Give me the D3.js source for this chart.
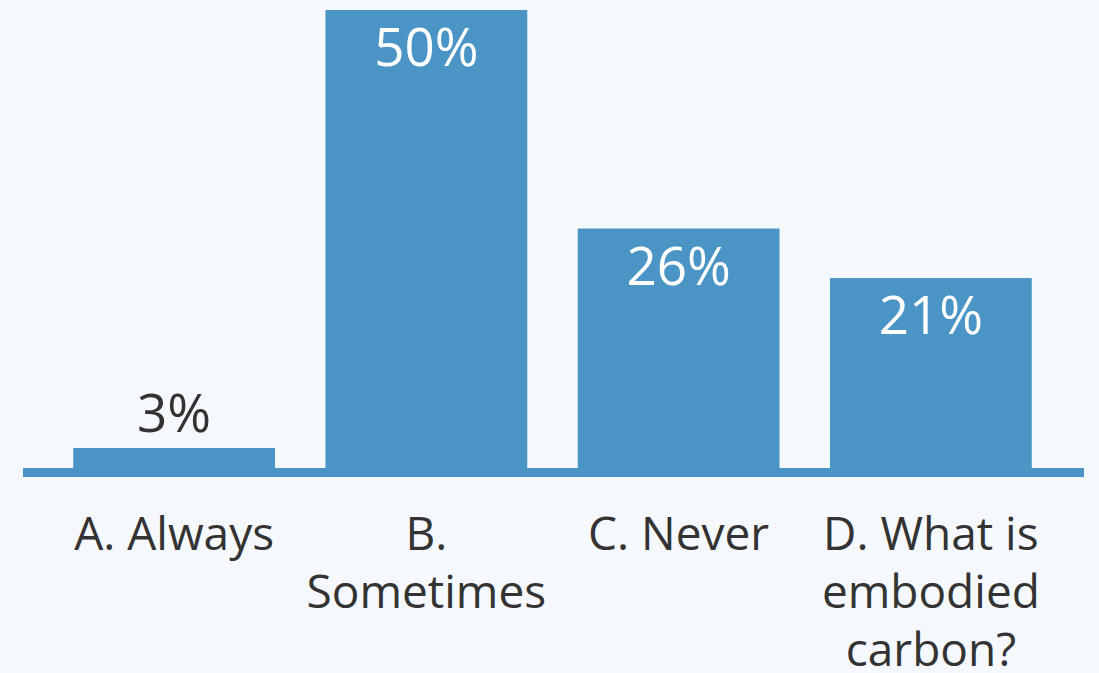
<!DOCTYPE html>
<html>
<head>
<meta charset="utf-8">
<script src="https://cdn.jsdelivr.net/npm/d3@7"></script>
<style>
  html, body { margin: 0; padding: 0; background: #f5f9fd; }
  svg { display: block; }
</style>
</head>
<body>
<svg id="chart" width="1099" height="673"></svg>
<script>
const categories = ["A. Always", "B. Sometimes", "C. Never", "D. What is embodied carbon?"];
const categoryLines = [["A. Always"], ["B.", "Sometimes"], ["C. Never"], ["D. What is", "embodied", "carbon?"]];
// bar heights (labels show rounded percentages)
const values = [3.1, 50, 26.6, 21.3];
const valueLabels = ["3%", "50%", "26%", "21%"];

const W = 1099, H = 673;
const barColor = "#4b94c6";
const textColor = "#333333";
const font = "'Open Sans', sans-serif";

const svg = d3.select("#chart");

const x = d3.scaleBand().domain(categories).range([48, 1057]).paddingInner(0.2).paddingOuter(0.1);
const y = d3.scaleLinear().domain([0, 50]).range([477, 10]);

const data = categories.map((c, i) => ({ c, v: values[i], label: valueLabels[i], lines: categoryLines[i] }));

svg.selectAll("rect.bar").data(data).join("rect")
  .attr("class", "bar")
  .attr("x", d => x(d.c))
  .attr("width", x.bandwidth())
  .attr("y", d => y(d.v))
  .attr("height", d => y(0) - y(d.v))
  .attr("fill", barColor);

// baseline
svg.append("rect")
  .attr("x", x.range()[0] - 25)
  .attr("width", (x.range()[1] - x.range()[0]) + 52)
  .attr("y", y(0) - 9)
  .attr("height", 9)
  .attr("fill", barColor);

// value labels
const inside = d => (y(0) - y(d.v)) > 60;
svg.selectAll("text.val").data(data).join("text")
  .attr("class", "val")
  .attr("x", d => x(d.c) + x.bandwidth() / 2)
  .attr("y", d => inside(d) ? y(d.v) + 56 : y(d.v) - 16)
  .attr("text-anchor", "middle")
  .attr("font-family", font)
  .attr("font-size", 53)
  .attr("fill", d => inside(d) ? "#ffffff" : textColor)
  .text(d => d.label);

// category labels
const cat = svg.selectAll("text.cat").data(data).join("text")
  .attr("class", "cat")
  .attr("x", d => x(d.c) + x.bandwidth() / 2)
  .attr("y", 550)
  .attr("text-anchor", "middle")
  .attr("font-family", font)
  .attr("font-size", 46)
  .attr("fill", textColor);
cat.selectAll("tspan").data(d => d.lines.map(l => ({ l, x: x(d.c) + x.bandwidth() / 2 })))
  .join("tspan")
  .attr("x", t => t.x)
  .attr("dy", (t, i) => i === 0 ? 0 : 58)
  .text(t => t.l);
</script>
</body>
</html>
